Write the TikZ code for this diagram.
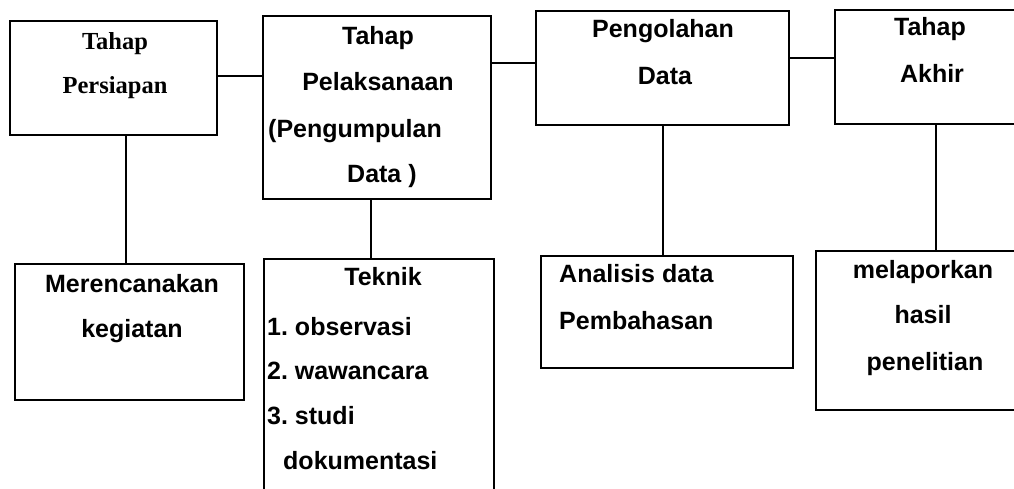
\documentclass[tikz,border=0pt]{standalone}
\usepackage{fontspec}
\setmainfont{Liberation Sans}
\newfontfamily\serifbold{Liberation Serif}
\frenchspacing
\begin{document}
\begin{tikzpicture}[x=1pt,y=-1pt,
  box/.style={draw, line width=2pt, inner sep=0pt, outer sep=0pt, rectangle},
  conn/.style={line width=2pt},
  lbl/.style={inner sep=0pt, anchor=mid, yshift=-5pt, font=\fontsize{25}{27}\selectfont\bfseries},
  lblw/.style={lbl, anchor=mid west},
  slbl/.style={inner sep=0pt, anchor=mid, yshift=-4pt, font=\fontsize{24.5}{26}\serifbold\bfseries}]
\useasboundingbox (0,0) rectangle (1014,488);
\clip (0,0) rectangle (1014,488);
% top row
\node[box, minimum width=207pt, minimum height=114pt] (b1) at (113.5,78) {};
\node[box, minimum width=228pt, minimum height=183pt] (b2) at (377,107.5) {};
\node[box, minimum width=253pt, minimum height=114pt] (b3) at (662.5,68) {};
\node[box, minimum width=190pt, minimum height=114pt] (b4) at (930,67) {};
% bottom row
\node[box, minimum width=229pt, minimum height=136pt] (b5) at (129.5,332) {};
\node[box, minimum width=230pt, minimum height=241pt] (b6) at (379,379.5) {};
\node[box, minimum width=252pt, minimum height=112pt] (b7) at (667,312) {};
\node[box, minimum width=209pt, minimum height=159pt] (b8) at (920.5,330.5) {};
% connectors
\draw[conn] ([yshift=2pt]b1.east) -- ([yshift=2pt]b1.east -| b2.west);
\draw[conn] ([yshift=5pt]b3.west) -- ([yshift=5pt]b3.west -| b2.east);
\draw[conn] ([yshift=10pt]b3.east) -- ([yshift=10pt]b3.east -| b4.west);
\draw[conn] ([xshift=-4pt]b5.north) -- ([xshift=-4pt]b5.north |- b1.south);
\draw[conn] ([xshift=-8pt]b6.north) -- ([xshift=-8pt]b6.north |- b2.south);
\draw[conn] (b3.south) -- (b3.south |- b7.north);
\draw[conn] ([xshift=6pt]b4.south) -- ([xshift=6pt]b4.south |- b8.north);
% texts box 1
\node[slbl] (t1a) at (115,43) {Tahap};
\node[slbl] (t1b) at (115,87) {Persiapan};
% box 2
\node[lbl] (t2a) at (378,37) {Tahap};
\node[lbl] (t2b) at (378,83) {Pelaksanaan};
\node[lblw] (t2c) at (268,130) {(Pengumpulan};
\node[lblw] (t2d) at (347,175) {Data )};
% box 3
\node[lbl] (t3a) at (663,30) {Pengolahan};
\node[lbl] (t3b) at (665,77) {Data};
% box 4
\node[lbl] (t4a) at (930,28) {Tahap};
\node[lbl] (t4b) at (932,75) {Akhir};
% box 5
\node[lbl] (t5a) at (132,285) {Merencanakan};
\node[lbl] (t5b) at (132,330) {kegiatan};
% box 6
\node[lbl] (t6a) at (383,278) {Teknik};
\node[lblw] (t6b) at (267,328) {1. observasi};
\node[lblw] (t6c) at (267,372) {2. wawancara};
\node[lblw] (t6d) at (267,417) {3. studi};
\node[lblw] (t6e) at (283,462) {dokumentasi};
% box 7
\node[lblw] (t7a) at (559,275) {Analisis data};
\node[lblw] (t7b) at (559,322) {Pembahasan};
% box 8
\node[lbl] (t8a) at (923,271) {melaporkan};
\node[lbl] (t8b) at (923,316) {hasil};
\node[lbl] (t8c) at (925,363) {penelitian};
\end{tikzpicture}
\end{document}
